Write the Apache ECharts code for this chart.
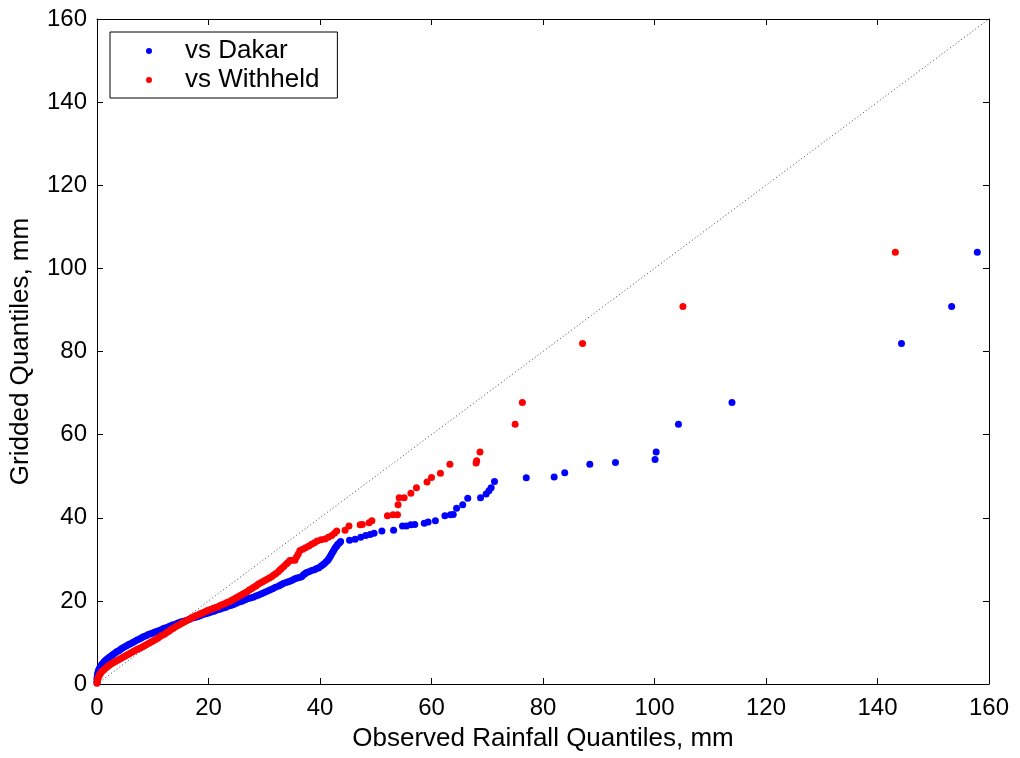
<!DOCTYPE html>
<html>
<head>
<meta charset="utf-8">
<script src="https://cdn.jsdelivr.net/npm/echarts@6/dist/echarts.min.js"></script>
<style>
html,body{margin:0;padding:0;background:#fff;}
#chart{width:1020px;height:758px;}
</style>
</head>
<body>
<div id="chart"></div>
<script>
// Axis ticks
var xTicks = [0, 20, 40, 60, 80, 100, 120, 140, 160];
var yTicks = [0, 20, 40, 60, 80, 100, 120, 140, 160];

// vs Dakar (blue)
var dakarX = [0,0,0,0.05,0.1,0.15,0.25,0.35,0.5,0.65,0.85,1.05,1.3,1.55,1.8,2.1,2.4,2.7,3.0,3.3,3.6,3.9,4.2,4.5,4.9,5.3,5.7,6.0,6.4,6.8,7.2,7.6,8.0,8.4,8.8,9.2,9.6,10.0,10.4,10.8,11.2,11.6,12.0,12.5,13.0,13.5,14.0,14.5,15.0,15.5,16.0,16.5,17.0,17.5,18.0,18.5,19.0,19.5,20.0,20.5,21.0,21.5,22.0,22.5,23.0,23.5,24.0,24.5,25.0,25.5,26.0,26.5,27.0,27.5,28.0,28.5,29.0,29.5,30.0,30.5,31.0,31.5,32.0,32.6,33.0,33.4,33.9,34.3,34.7,35.1,35.5,35.9,36.3,36.7,37.0,37.3,37.6,38.0,38.5,39.0,39.4,39.8,40.2,40.5,40.8,41.1,41.4,41.6,41.8,42.0,42.2,42.4,42.6,42.8,43.0,43.2,43.5,43.7,45.3,46.3,47.3,48.2,49.0,49.7,51.1,53.2,54.8,55.5,56.3,57.0,58.7,59.4,60.7,62.4,63.4,63.9,64.5,65.6,66.5,68.8,69.8,70.3,70.7,71.3,77.0,82.0,83.9,88.4,93.0,100.1,100.3,104.3,113.9,144.3,153.3,157.9];
var dakarY = [0.3,0.8,1.3,1.8,2.3,2.7,3.1,3.5,3.9,4.3,4.7,5.0,5.4,5.7,6.0,6.3,6.6,6.9,7.2,7.5,7.8,8.0,8.3,8.6,8.9,9.2,9.5,9.7,10.0,10.3,10.6,10.8,11.1,11.4,11.6,11.9,12.1,12.3,12.5,12.7,12.9,13.1,13.4,13.6,13.9,14.2,14.4,14.7,14.9,15.1,15.3,15.5,15.8,16.0,16.2,16.4,16.7,16.9,17.1,17.3,17.5,17.8,18.0,18.2,18.4,18.7,18.9,19.1,19.4,19.7,19.9,20.2,20.5,20.7,20.9,21.2,21.4,21.7,22.0,22.3,22.6,22.9,23.3,23.6,23.9,24.2,24.4,24.6,24.8,25.0,25.3,25.5,25.6,25.8,26.2,26.5,26.8,27.0,27.3,27.5,27.8,28.0,28.4,28.7,29.0,29.4,29.8,30.2,30.6,31.1,31.6,32.0,32.5,32.9,33.2,33.6,34.0,34.3,34.6,34.8,35.3,35.7,36.0,36.3,36.8,37.0,38.0,38.0,38.3,38.4,38.7,39.0,39.3,40.5,40.7,40.8,42.3,43.1,44.7,44.8,45.7,46.5,47.2,48.7,49.6,49.8,50.8,52.9,53.3,54.0,55.8,62.5,67.7,81.9,90.8,103.9];

// vs Withheld (red)
var withheldX = [0,0.05,0.1,0.2,0.3,0.45,0.6,0.8,1.0,1.3,1.6,1.9,2.2,2.5,2.9,3.3,3.7,4.1,4.5,4.9,5.3,5.7,6.1,6.5,6.9,7.3,7.7,8.1,8.5,8.9,9.3,9.7,10.1,10.5,10.9,11.3,11.7,12.1,12.5,12.9,13.3,13.7,14.1,14.5,14.9,15.3,15.7,16.1,16.5,16.9,17.3,17.7,18.1,18.5,18.9,19.3,19.7,20.1,20.5,20.9,21.3,21.7,22.1,22.5,22.9,23.3,23.7,24.1,24.5,24.9,25.3,25.7,26.1,26.5,26.9,27.3,27.7,28.1,28.5,28.9,29.3,29.7,30.1,30.5,30.9,31.3,31.7,32.1,32.5,32.8,33.1,33.5,33.9,34.2,34.6,35.0,35.5,35.8,36.1,36.4,36.9,37.4,38.0,38.5,39.0,39.5,40.2,40.9,41.5,42.1,42.6,43.0,44.5,45.2,47.2,47.6,48.8,49.3,52.1,53.1,53.9,54.0,54.2,55.1,56.3,57.3,59.2,60.0,61.6,63.3,68.0,68.1,68.7,75.0,76.3,87.1,105.1,143.2];
var withheldY = [0.2,0.6,1.0,1.4,1.8,2.2,2.5,2.9,3.2,3.5,3.9,4.2,4.5,4.8,5.1,5.4,5.7,6.0,6.3,6.6,6.9,7.2,7.5,7.8,8.1,8.4,8.6,8.9,9.2,9.5,9.8,10.1,10.4,10.7,11.0,11.4,11.7,12.0,12.4,12.7,13.1,13.4,13.8,14.1,14.4,14.7,15.0,15.3,15.6,15.9,16.1,16.4,16.6,16.9,17.1,17.3,17.6,17.8,18.0,18.2,18.4,18.6,18.9,19.1,19.3,19.6,19.8,20.1,20.4,20.7,21.0,21.3,21.6,21.9,22.2,22.6,22.9,23.3,23.6,24.0,24.3,24.6,24.9,25.2,25.5,25.8,26.2,26.6,27.0,27.4,27.8,28.3,28.8,29.2,29.7,29.8,29.8,30.6,31.3,32.1,32.4,32.8,33.2,33.6,34.0,34.4,34.7,34.9,35.3,35.7,36.3,36.8,37.0,38.0,38.3,38.4,38.8,39.3,40.5,40.7,40.7,43.1,44.8,44.8,45.9,47.2,48.6,49.7,50.7,52.9,53.2,53.7,55.8,62.5,67.7,81.9,90.8,103.9];

// reference line y = x
var refLine = [0, 160];

function pairs(xs, ys) {
  var out = [];
  for (var i = 0; i < xs.length; i++) out.push([xs[i], ys[i]]);
  return out;
}

var FONT = '"Liberation Sans", Arial, sans-serif';
var chart = echarts.init(document.getElementById('chart'), null, {renderer: 'canvas'});

var axisCommon = {
  type: 'value',
  min: xTicks[0],
  max: xTicks[xTicks.length - 1],
  interval: xTicks[1] - xTicks[0],
  splitLine: {show: false},
  axisLine: {show: true, onZero: false, lineStyle: {color: '#000', width: 1}},
  axisTick: {show: true, inside: true, length: 6, lineStyle: {color: '#000', width: 1}}
};

var option = {
  backgroundColor: '#ffffff',
  animation: false,
  textStyle: {fontFamily: FONT},
  grid: {left: 97, right: 31, top: 19, bottom: 74, containLabel: false},
  legend: {
    data: ['vs Dakar', 'vs Withheld'],
    orient: 'vertical',
    left: 110,
    top: 32,
    padding: [6, 18, 5, 36],
    itemGap: 3,
    itemWidth: 6,
    itemHeight: 6,
    icon: 'circle',
    borderColor: '#000',
    borderWidth: 1,
    borderRadius: 0,
    backgroundColor: '#fff',
    selectedMode: false,
    textStyle: {fontSize: 26, color: '#000', fontFamily: FONT, lineHeight: 26, padding: [0, 0, 0, 28]}
  },
  xAxis: [
    Object.assign({}, axisCommon, {
      position: 'bottom',
      name: 'Observed Rainfall Quantiles, mm',
      nameLocation: 'middle',
      nameGap: 42,
      nameTextStyle: {fontSize: 26, color: '#000', fontFamily: FONT},
      axisLabel: {fontSize: 24, color: '#000', margin: 12, fontFamily: FONT}
    }),
    Object.assign({}, axisCommon, {
      position: 'top',
      axisLabel: {show: false}
    })
  ],
  yAxis: [
    Object.assign({}, axisCommon, {
      min: yTicks[0],
      max: yTicks[yTicks.length - 1],
      interval: yTicks[1] - yTicks[0],
      position: 'left',
      name: 'Gridded Quantiles, mm',
      nameLocation: 'middle',
      nameGap: 63,
      nameRotate: 90,
      nameTextStyle: {fontSize: 26, color: '#000', fontFamily: FONT},
      axisLabel: {fontSize: 24, color: '#000', margin: 10, fontFamily: FONT}
    }),
    Object.assign({}, axisCommon, {
      min: yTicks[0],
      max: yTicks[yTicks.length - 1],
      interval: yTicks[1] - yTicks[0],
      position: 'right',
      axisLabel: {show: false}
    })
  ],
  series: [
    {
      name: 'ref',
      type: 'line',
      xAxisIndex: 0,
      yAxisIndex: 0,
      data: pairs(refLine, refLine),
      symbol: 'none',
      silent: true,
      lineStyle: {color: '#444', width: 1, type: [1, 2.5]},
      z: 1
    },
    {
      name: 'vs Dakar',
      type: 'scatter',
      data: pairs(dakarX, dakarY),
      symbol: 'circle',
      symbolSize: 7,
      itemStyle: {color: '#0000ff', opacity: 1},
      z: 2
    },
    {
      name: 'vs Withheld',
      type: 'scatter',
      data: pairs(withheldX, withheldY),
      symbol: 'circle',
      symbolSize: 7,
      itemStyle: {color: '#ff0000', opacity: 1},
      z: 3
    }
  ]
};
chart.setOption(option);
</script>
</body>
</html>
